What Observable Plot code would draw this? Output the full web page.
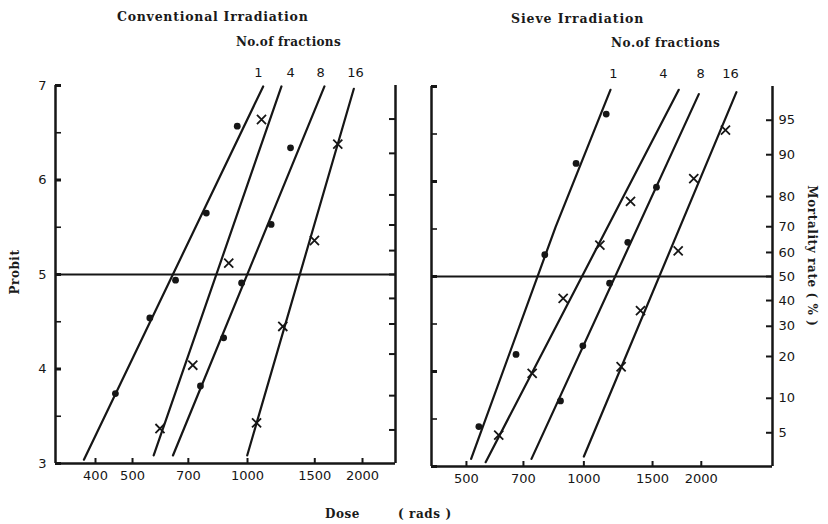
<!DOCTYPE html>
<html><head><meta charset="utf-8">
<script src="https://cdn.jsdelivr.net/npm/d3@7"></script>
<script src="https://cdn.jsdelivr.net/npm/@observablehq/plot@0.6"></script>
<style>
body{margin:0;background:#fff;}
#wrap{position:relative;width:828px;height:524px;overflow:hidden;background:#fff;}
.t{position:absolute;font-family:"DejaVu Serif",serif;font-weight:bold;color:#1a1a1a;white-space:nowrap;line-height:1;}
#wrap svg{position:absolute;top:0;background:transparent;}
</style></head><body><div id="wrap">
<div class="t" style="left:117px;top:11px;font-size:12.5px;letter-spacing:0.75px">Conventional Irradiation</div>
<div class="t" style="left:236px;top:36px;font-size:12px;letter-spacing:0.3px">No.of fractions</div>
<div class="t" style="left:511px;top:13px;font-size:12.5px;letter-spacing:0.9px">Sieve Irradiation</div>
<div class="t" style="left:611px;top:37px;font-size:12px;letter-spacing:0.6px">No.of fractions</div>
<div class="t" style="left:325px;top:508px;font-size:12px;letter-spacing:0.5px">Dose</div>
<div class="t" style="left:398px;top:508px;font-size:12px;letter-spacing:0.6px">( rads )</div>
<div class="t" style="left:15px;top:272px;font-size:12px;letter-spacing:0.5px;transform:translate(-50%,-50%) rotate(-90deg);">Probit</div>
<div class="t" style="left:812px;top:256px;font-size:12px;letter-spacing:0.6px;transform:translate(-50%,-50%) rotate(90deg);">Mortality rate ( % )</div>
</div>
<script>
// ---- axis ticks / labels ----
const convDoseTicks = [400, 500, 700, 1000, 1500, 2000];
const sieveDoseTicks = [500, 700, 1000, 1500, 2000];
const probitTicks = [3, 3.5, 4, 4.5, 5, 5.5, 6, 6.5, 7];
const probitLabels = [3, 4, 5, 6, 7];
const mortalityPct = [5, 10, 20, 30, 40, 50, 60, 70, 80, 90, 95];
const mortalityProbit = [3.355, 3.718, 4.158, 4.476, 4.747, 5.0, 5.253, 5.524, 5.842, 6.282, 6.645];
const fractions = ["1", "4", "8", "16"];
const convLabelDose = [1068, 1296, 1553, 1918];
const sieveLabelDose = [1191, 1600, 1991, 2375];

// ---- Conventional irradiation: observed points ----
const convDose1 = [451, 555, 648, 780, 940];
const convProbit1 = [3.74, 4.54, 4.94, 5.65, 6.57];
const convDose4 = [590, 719, 893, 1088];
const convProbit4 = [3.37, 4.04, 5.12, 6.64];
const convDose8 = [753, 866, 965, 1153, 1296];
const convProbit8 = [3.82, 4.33, 4.91, 5.53, 6.34];
const convDose16 = [1056, 1237, 1497, 1723];
const convProbit16 = [3.43, 4.45, 5.36, 6.38];
// fitted lines (ends)
const convLineDose = [[373, 1099], [568, 1227], [638, 1590], [998, 1898]];
const convLineProbit = [[3.04, 6.99], [3.085, 6.99], [3.085, 6.99], [3.085, 6.965]];

// ---- Sieve irradiation: observed points ----
const sieveDose1 = [538, 670, 794, 955, 1141];
const sieveProbit1 = [3.42, 4.18, 5.23, 6.19, 6.71];
const sieveDose4 = [605, 737, 885, 1099, 1317];
const sieveProbit4 = [3.33, 3.98, 4.77, 5.33, 5.79];
const sieveDose8 = [871, 994, 1164, 1296, 1535];
const sieveProbit8 = [3.69, 4.27, 4.93, 5.36, 5.94];
const sieveDose16 = [1246, 1397, 1745, 1913, 2307];
const sieveProbit16 = [4.05, 4.64, 5.27, 6.03, 6.54];
const sieveLineDose = [[514, 846, 1170], [560, 1751], [734, 1971], [1000, 2461]];
const sieveLineProbit = [[3.08, 5.52, 6.965], [3.045, 6.965], [3.08, 6.92], [3.105, 6.94]];

const ink = "#161616";
const numFont = "DejaVu Sans";

function pts(doses, probits, frac) { return doses.map((d, i) => ({dose: d, probit: probits[i], frac})); }
function lines(doseArr, probitArr) {
  return doseArr.flatMap((ds, k) => ds.map((d, i) => ({dose: d, probit: probitArr[k][i], frac: fractions[k]})));
}

function panel({domain, ticks, lineRows, dots, crosses, labelDose, width, mL, mR, mT, mB, height, rightLabels, leftLabels}) {
  const innerW = width - mL - mR;
  const innerH = height - mT - mB;
  const marks = [
    Plot.ruleY([3], {stroke: ink, strokeWidth: 2.5}),
    Plot.ruleX([domain[0], domain[1]], {y1: 3, y2: 7, stroke: ink, strokeWidth: 2.5}),
    Plot.tickY(probitTicks, {y: d => d, insetRight: innerW - 6, stroke: ink, strokeWidth: d => Number.isInteger(d) ? 3 : 1.6}),
    Plot.tickY(mortalityProbit, {y: d => d, insetLeft: innerW - 6, stroke: ink, strokeWidth: 2}),
    Plot.tickX(ticks, {x: d => d, insetTop: innerH - 5, stroke: ink, strokeWidth: 2}),
    Plot.ruleY([5], {stroke: ink, strokeWidth: 2}),
    Plot.line(lineRows, {x: "dose", y: "probit", z: "frac", stroke: ink, strokeWidth: 2.2}),
    Plot.dot(dots, {x: "dose", y: "probit", r: 3.4, fill: ink, stroke: null}),
    Plot.dot(crosses, {x: "dose", y: "probit", symbol: "times", r: 4.2, stroke: ink, strokeWidth: 1.8}),
    Plot.text(fractions, {x: (d, i) => labelDose[i], text: d => d, frameAnchor: "top", dy: -18, fontSize: 13, fill: ink})
  ];
  if (rightLabels) {
    marks.push(Plot.text(mortalityProbit, {y: d => d, text: (d, i) => String(mortalityPct[i]), frameAnchor: "right", textAnchor: "start", dx: 6, fontSize: 13, fill: ink}));
  }
  return Plot.plot({
    width, height,
    marginLeft: mL, marginRight: mR, marginTop: mT, marginBottom: mB,
    style: {fontFamily: numFont, fontSize: "13px", color: ink, background: "transparent", overflow: "visible"},
    x: {type: "log", domain, ticks, tickFormat: d => String(d), tickSize: 0, tickPadding: 7, label: null},
    y: leftLabels
      ? {domain: [3, 7], ticks: probitLabels, tickFormat: d => String(d), tickSize: 0, tickPadding: 9, label: null}
      : {domain: [3, 7], axis: null},
    marks
  });
}

const convLeft = panel({
  domain: [314.3, 2440], ticks: convDoseTicks,
  lineRows: lines(convLineDose, convLineProbit),
  dots: [...pts(convDose1, convProbit1, "1"), ...pts(convDose8, convProbit8, "8")],
  crosses: [...pts(convDose4, convProbit4, "4"), ...pts(convDose16, convProbit16, "16")],
  labelDose: convLabelDose,
  width: 400, height: 490, mL: 55, mR: 5, mT: 85, mB: 27,
  rightLabels: false, leftLabels: true
});
convLeft.style.left = "0px";

const sieveRight = panel({
  domain: [406.8, 3045], ticks: sieveDoseTicks,
  lineRows: lines(sieveLineDose, sieveLineProbit),
  dots: [...pts(sieveDose1, sieveProbit1, "1"), ...pts(sieveDose8, sieveProbit8, "8")],
  crosses: [...pts(sieveDose4, sieveProbit4, "4"), ...pts(sieveDose16, sieveProbit16, "16")],
  labelDose: sieveLabelDose,
  width: 428, height: 495, mL: 31, mR: 56, mT: 86, mB: 29,
  rightLabels: true, leftLabels: false
});
sieveRight.style.left = "400px";

const wrap = document.getElementById("wrap");
wrap.appendChild(convLeft);
wrap.appendChild(sieveRight);
</script>
</body></html>
